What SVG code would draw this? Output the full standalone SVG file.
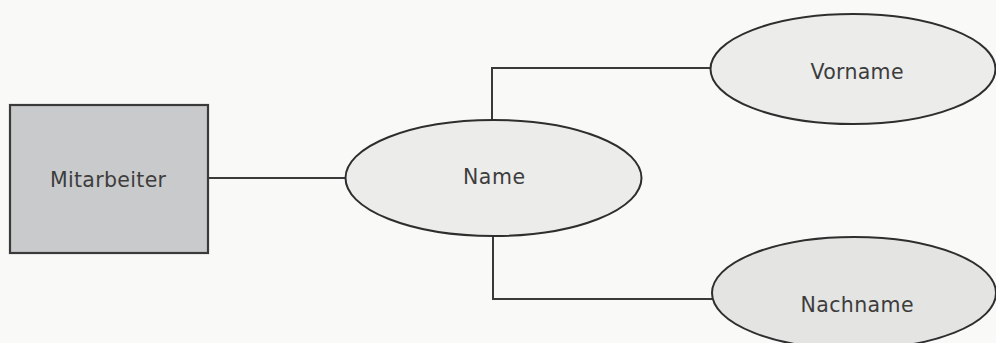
<svg xmlns="http://www.w3.org/2000/svg" width="996" height="343" viewBox="0 0 996 343">
<style>
.bg{fill:#f9f9f7}
.ent{fill:#c9cacb;stroke:#3a3a3a;stroke-width:2.2}
.attr{fill:#ececeb;stroke:#2e2e2e;stroke-width:2}
.attr2{fill:#e4e4e3;stroke:#2e2e2e;stroke-width:2}
.lbl{font-family:"DejaVu Sans",sans-serif;font-size:20.5px;fill:#3d3d3d;text-anchor:middle}
.con{fill:none;stroke:#3a3a3a;stroke-width:2}
</style>
<rect class="bg" x="0" y="0" width="996" height="343"/>
<g id="connectors">
<line class="con" x1="208" y1="178" x2="346" y2="178"/>
<polyline class="con" points="492,120 492,68 711,68"/>
<polyline class="con" points="493,236 493,299 713,299"/>
</g>
<g id="mitarbeiter">
<rect class="ent" x="10" y="105" width="198" height="148"/>
<text class="lbl" x="108" y="187" textLength="116" lengthAdjust="spacing">Mitarbeiter</text>
</g>
<g id="name">
<ellipse class="attr" cx="493.5" cy="178" rx="148" ry="58"/>
<text class="lbl" x="494" y="184" textLength="62" lengthAdjust="spacing">Name</text>
</g>
<g id="vorname">
<ellipse class="attr" cx="853" cy="69" rx="142.5" ry="55"/>
<text class="lbl" x="857" y="79" textLength="93" lengthAdjust="spacing">Vorname</text>
</g>
<g id="nachname">
<ellipse class="attr2" cx="854" cy="293" rx="142" ry="56"/>
<text class="lbl" x="857" y="312" textLength="113" lengthAdjust="spacing">Nachname</text>
</g>
</svg>
